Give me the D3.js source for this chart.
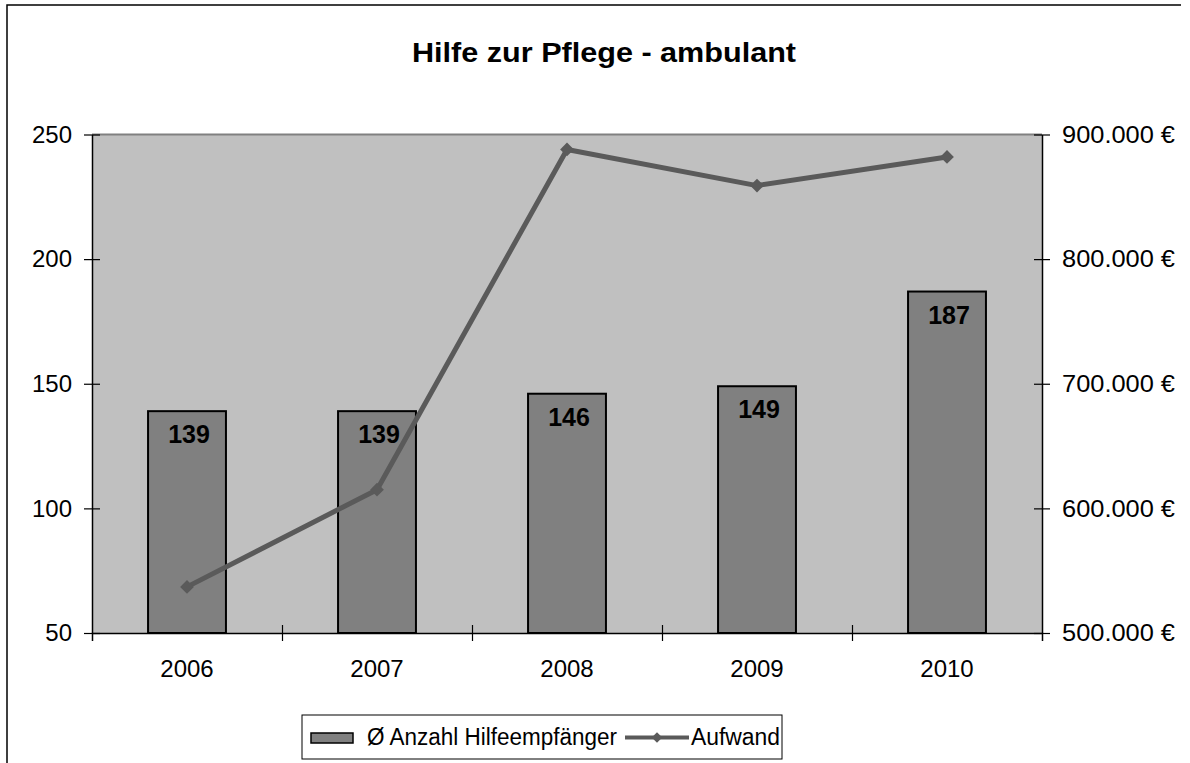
<!DOCTYPE html>
<html>
<head>
<meta charset="utf-8">
<script src="https://cdn.jsdelivr.net/npm/d3@7"></script>
<style>
    body { margin: 0; background: #fff; }
    text { font-family: "Liberation Sans", Arial, sans-serif; fill: #000; }
</style>
</head>
<body>
<svg id="chart" width="1190" height="763"></svg>
<script>
// data
const years = ["2006", "2007", "2008", "2009", "2010"];
const recipients = [139, 139, 146, 149, 187];
const expenses = [537000, 615000, 888000, 859000, 882000];
const leftTicks = [50, 100, 150, 200, 250];
const rightTicks = [500000, 600000, 700000, 800000, 900000];

const plot = { left: 92, right: 1042, top: 134.5, bottom: 633 };

const svg = d3.select("#chart");

// outer frame (only top and left are visible in the picture)
svg.append("path")
    .attr("d", "M7,763 V5 H1181")
    .attr("fill", "none")
    .attr("stroke", "#000")
    .attr("stroke-width", 1.5);

svg.append("text")
    .attr("x", 604)
    .attr("y", 62)
    .attr("text-anchor", "middle")
    .attr("textLength", 384)
    .attr("lengthAdjust", "spacingAndGlyphs")
    .style("font-size", "27px")
    .style("font-weight", "bold")
    .text("Hilfe zur Pflege - ambulant");

const x = d3.scaleBand()
    .domain(years)
    .range([plot.left, plot.right])
    .paddingInner(0.59)
    .paddingOuter(0.295);
const xEdge = d3.scaleLinear().domain([0, years.length]).range([plot.left, plot.right]);
const y = d3.scaleLinear().domain([50, 250]).range([plot.bottom, plot.top]);
const y2 = d3.scaleLinear().domain([500000, 900000]).range([plot.bottom, plot.top]);

const euro = d3.formatLocale({
    decimal: ",",
    thousands: ".",
    grouping: [3],
    currency: ["", " €"]
}).format("$,.0f");

// plot background
svg.append("rect")
    .attr("x", plot.left)
    .attr("y", plot.top)
    .attr("width", plot.right - plot.left)
    .attr("height", plot.bottom - plot.top)
    .attr("fill", "#c0c0c0");
svg.append("line")
    .attr("x1", plot.left).attr("x2", plot.right)
    .attr("y1", plot.top).attr("y2", plot.top)
    .attr("stroke", "#808080")
    .attr("stroke-width", 2);

// bars
svg.append("g")
    .selectAll("rect")
    .data(years)
    .enter()
    .append("rect")
    .attr("x", d => x(d))
    .attr("y", (d, i) => y(recipients[i]))
    .attr("width", x.bandwidth())
    .attr("height", (d, i) => y(50) - y(recipients[i]))
    .attr("fill", "#808080")
    .attr("stroke", "#000")
    .attr("stroke-width", 2);

// bar labels
svg.append("g")
    .selectAll("text")
    .data(years)
    .enter()
    .append("text")
    .attr("x", d => x(d) + x.bandwidth() / 2 + 2)
    .attr("y", (d, i) => y(recipients[i]) + 32)
    .attr("text-anchor", "middle")
    .style("font-size", "25px")
    .style("font-weight", "bold")
    .text((d, i) => recipients[i]);

// axes
const styleAxis = (g, inner) => {
    g.select(".domain").attr("stroke", "#000").attr("stroke-width", 1.5);
    g.selectAll(".tick line").attr("stroke", "#000").attr("stroke-width", 1.2);
    g.selectAll(".tick text")
        .style("font-size", "24px")
        .attr("fill", "#000");
    inner(g);
};

svg.append("g")
    .attr("transform", "translate(" + plot.left + ",0)")
    .call(d3.axisLeft(y).tickValues(leftTicks).tickSizeInner(8).tickSizeOuter(0).tickPadding(12))
    .call(g => styleAxis(g, g => g.selectAll(".tick line").attr("x1", 8)));

svg.append("g")
    .attr("transform", "translate(" + plot.right + ",0)")
    .call(d3.axisRight(y2).tickValues(rightTicks).tickFormat(euro).tickSizeInner(8).tickSizeOuter(0).tickPadding(12))
    .call(g => styleAxis(g, g => {
        g.selectAll(".tick line").attr("x1", -8);
        g.selectAll(".tick text").attr("textLength", 113).attr("lengthAdjust", "spacingAndGlyphs");
    }));

svg.append("g")
    .attr("transform", "translate(0," + plot.bottom + ")")
    .call(d3.axisBottom(xEdge).tickValues(d3.range(1, years.length)).tickFormat("").tickSizeInner(8).tickSizeOuter(8))
    .call(g => styleAxis(g, g => g.selectAll(".tick line").attr("y1", -8)));

svg.append("g")
    .attr("transform", "translate(0," + plot.bottom + ")")
    .call(d3.axisBottom(x).tickSize(0).tickPadding(27))
    .call(g => {
        g.select(".domain").remove();
        g.selectAll(".tick text").style("font-size", "24px").attr("fill", "#000");
    });

// expense line
const line = d3.line()
    .x((d, i) => x(years[i]) + x.bandwidth() / 2)
    .y(d => y2(d));

svg.append("path")
    .datum(expenses)
    .attr("d", line)
    .attr("fill", "none")
    .attr("stroke", "#5a5a5a")
    .attr("stroke-width", 5)
    .attr("stroke-linejoin", "round");

svg.append("g")
    .selectAll("path")
    .data(expenses)
    .enter()
    .append("path")
    .attr("d", d3.symbol(d3.symbolDiamond2, 120))
    .attr("transform", (d, i) => "translate(" + (x(years[i]) + x.bandwidth() / 2) + "," + y2(d) + ")")
    .attr("fill", "#5a5a5a");

// legend
const legend = svg.append("g");
legend.append("rect")
    .attr("x", 302).attr("y", 715)
    .attr("width", 480).attr("height", 44)
    .attr("fill", "#fff")
    .attr("stroke", "#000")
    .attr("stroke-width", 1);
legend.append("rect")
    .attr("x", 311).attr("y", 733)
    .attr("width", 42).attr("height", 10)
    .attr("fill", "#808080")
    .attr("stroke", "#000")
    .attr("stroke-width", 1.5);
legend.append("text")
    .attr("x", 367).attr("y", 745)
    .attr("textLength", 250)
    .attr("lengthAdjust", "spacingAndGlyphs")
    .style("font-size", "23px")
    .text("Ø Anzahl Hilfeempfänger");
legend.append("line")
    .attr("x1", 625).attr("x2", 689)
    .attr("y1", 737.5).attr("y2", 737.5)
    .attr("stroke", "#5a5a5a")
    .attr("stroke-width", 4);
legend.append("path")
    .attr("d", d3.symbol(d3.symbolDiamond2, 70))
    .attr("transform", "translate(657,737.5)")
    .attr("fill", "#5a5a5a");
legend.append("text")
    .attr("x", 691).attr("y", 745)
    .attr("textLength", 89)
    .attr("lengthAdjust", "spacingAndGlyphs")
    .style("font-size", "23px")
    .text("Aufwand");
</script>
</body>
</html>
